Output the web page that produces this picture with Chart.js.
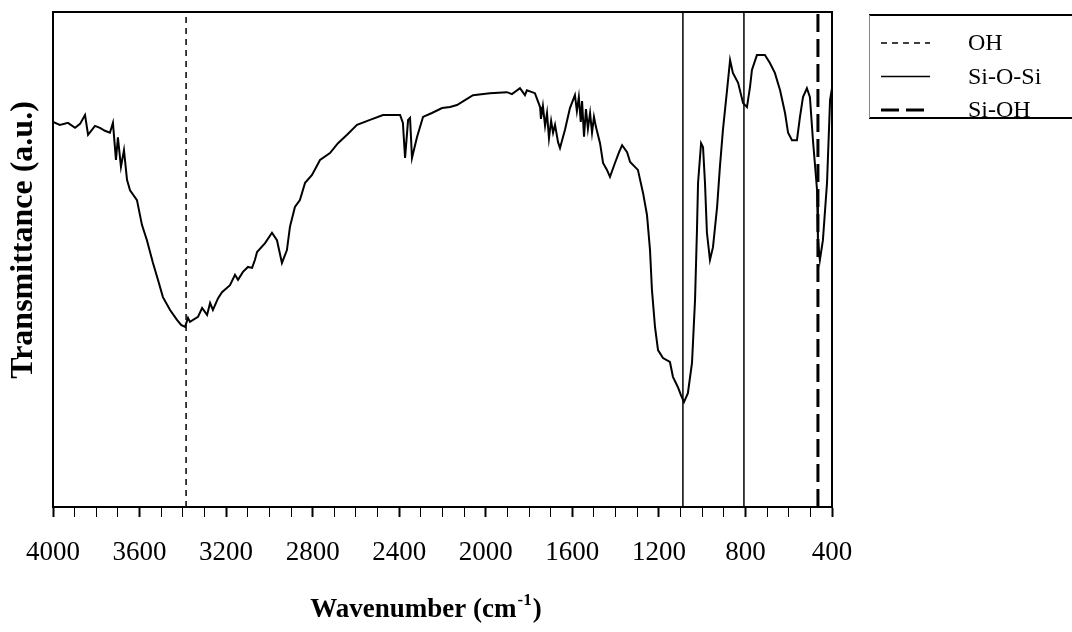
<!DOCTYPE html>
<html>
<head>
<meta charset="utf-8">
<title>FTIR spectrum</title>
<script src="https://cdn.jsdelivr.net/npm/chart.js@4"></script>
<style>
  html, body { margin: 0; padding: 0; background: #fff; }
  #wrap { width: 1072px; height: 632px; position: relative; }
</style>
</head>
<body>
<div id="wrap"><canvas id="ftir"></canvas></div>
<script>
// Spectrum (wavenumber in cm-1, transmittance in arbitrary units 0-100)
const wavenumber = [4000,3968,3931,3898,3875,3852,3838,3806,3783,3760,
    3737,3723,3709,3700,3686,3672,3658,3644,3612,3589,
    3566,3538,3515,3492,3459,3427,3408,3390,3376,3367,
    3330,3311,3288,3274,3261,3237,3219,3182,3159,3145,
    3122,3099,3080,3067,3057,3020,2988,2965,2942,2919,
    2905,2882,2859,2835,2803,2766,2720,2683,2641,2595,
    2535,2475,2396,2383,2373,2359,2350,2341,2318,2290,
    2249,2202,2165,2133,2096,2059,1981,1902,1879,1842,
    1819,1810,1773,1749,1745,1736,1726,1717,1708,1698,
    1689,1680,1666,1657,1634,1611,1588,1579,1570,1561,
    1555,1546,1537,1528,1518,1509,1500,1491,1472,1458,
    1440,1426,1403,1384,1370,1347,1333,1297,1273,1255,
    1241,1232,1218,1204,1181,1149,1135,1112,1098,1084,
    1066,1047,1033,1024,1019,1005,996,987,978,964,
    950,931,918,904,885,871,858,834,811,793,
    779,770,747,710,687,664,640,617,603,585,
    562,548,534,516,502,488,469,465,456,442,
    423,409,400];
const transmittance = [77.8,77.2,77.6,76.6,77.4,79.2,75.2,77.0,76.6,76.0,
    75.6,77.6,70.1,74.7,68.7,72.1,66.1,64.0,62.0,57.0,
    53.9,49.3,45.9,42.4,39.8,37.8,36.8,36.4,38.2,37.4,
    38.4,40.2,38.8,41.2,39.8,42.2,43.4,44.8,46.9,45.9,
    47.5,48.5,48.3,49.9,51.5,53.3,55.4,53.9,49.3,51.9,
    56.6,60.6,62.0,65.5,67.1,70.1,71.5,73.5,75.2,77.2,
    78.2,79.2,79.2,77.6,70.5,78.2,78.6,70.5,74.7,78.8,
    79.6,80.6,80.8,81.2,82.2,83.2,83.6,83.8,83.4,84.6,
    83.2,84.2,83.6,80.8,78.4,81.0,77.0,79.6,74.5,78.0,
    75.6,77.2,73.7,72.5,76.2,80.6,83.2,80.0,82.8,77.8,
    82.0,74.8,80.4,76.4,79.6,75.6,78.8,76.8,73.5,69.5,
    68.1,66.7,69.5,71.7,73.1,71.7,69.7,68.1,63.4,59.0,
    51.9,43.8,36.4,31.7,30.1,29.3,26.3,24.2,22.6,21.2,
    23.0,29.1,41.8,56.0,65.5,73.5,72.7,65.5,55.4,49.9,
    52.5,60.6,68.7,76.2,84.2,90.3,87.7,85.7,81.6,80.8,
    84.8,88.3,91.3,91.3,89.7,87.7,84.2,79.6,75.6,74.1,
    74.1,78.8,82.8,84.6,82.8,74.1,64.0,53.9,49.9,53.9,
    65.5,82.2,84.6];

// band markers (cm-1)
const ohBands = [3385];
const siOSiBands = [1089, 807];
const siOHBands = [465];

// labelled ticks on the wavenumber axis
const majorTicks = [4000, 3600, 3200, 2800, 2400, 2000, 1600, 1200, 800, 400];

const SERIF = "'Liberation Serif', 'Times New Roman', serif";

function bandLines(bands, label, dash, width) {
    return bands.map((wn, i) => ({
        label: label,
        inLegend: i === 0,
        data: [{ x: wn, y: 0 }, { x: wn, y: 100 }],
        borderColor: '#000',
        borderWidth: width,
        borderDash: dash,
        pointRadius: 0,
        fill: false
    }));
}

const spectrum = wavenumber.map((wn, i) => ({ x: wn, y: transmittance[i] }));

// draws the frame, axis titles and the boxed legend
const decorations = {
    id: 'decorations',
    afterDraw(chart) {
        const ctx = chart.ctx;
        const area = chart.chartArea;
        ctx.save();

        // frame round the plot
        ctx.strokeStyle = '#000';
        ctx.lineWidth = 2;
        ctx.strokeRect(area.left, area.top, area.right - area.left, area.bottom - area.top);

        // x title with superscript
        ctx.fillStyle = '#000';
        ctx.textBaseline = 'alphabetic';
        const big = 'bold 27px ' + SERIF;
        const small = 'bold 17px ' + SERIF;
        ctx.font = big;
        const partA = 'Wavenumber (cm';
        const partC = ')';
        const wA = ctx.measureText(partA).width;
        const wC = ctx.measureText(partC).width;
        ctx.font = small;
        const wB = ctx.measureText('-1').width;
        let x = 425 - (wA + wB + wC) / 2;
        const base = 617;
        ctx.font = big;
        ctx.fillText(partA, x, base);
        ctx.font = small;
        ctx.fillText('-1', x + wA + 1, base - 12);
        ctx.font = big;
        ctx.fillText(partC, x + wA + wB + 2, base);

        // y title
        ctx.save();
        ctx.translate(24, 240);
        ctx.rotate(-Math.PI / 2);
        ctx.font = 'bold 32px ' + SERIF;
        ctx.textAlign = 'center';
        ctx.textBaseline = 'middle';
        ctx.fillText('Transmittance (a.u.)', 0, 0);
        ctx.restore();

        // legend box
        const lx = 869, ly = 15, lb = 118;
        ctx.save();
        ctx.beginPath();
        ctx.rect(lx, ly, chart.width - lx, lb - ly);
        ctx.clip();
        const items = chart.data.datasets.filter(d => d.inLegend);
        items.forEach((d, i) => {
            const y = 43 + i * 33.5;
            ctx.strokeStyle = '#000';
            ctx.lineWidth = d.borderWidth;
            ctx.setLineDash(d.borderDash || []);
            ctx.beginPath();
            ctx.moveTo(881, y);
            ctx.lineTo(930, y);
            ctx.stroke();
            ctx.setLineDash([]);
            ctx.font = '24px ' + SERIF;
            ctx.textBaseline = 'middle';
            ctx.textAlign = 'left';
            ctx.fillText(d.label, 968, y + 1);
        });
        ctx.restore();
        ctx.lineWidth = 2;
        ctx.beginPath();
        ctx.moveTo(lx, ly); ctx.lineTo(chart.width, ly);
        ctx.moveTo(lx, lb); ctx.lineTo(chart.width, lb);
        ctx.stroke();
        ctx.lineWidth = 1;
        ctx.strokeStyle = '#888';
        ctx.beginPath();
        ctx.moveTo(lx + 0.5, ly); ctx.lineTo(lx + 0.5, lb);
        ctx.stroke();

        ctx.restore();
    }
};

new Chart(document.getElementById('ftir'), {
    type: 'line',
    data: {
        datasets: [
            {
                label: 'spectrum',
                data: spectrum,
                borderColor: '#000',
                borderWidth: 2,
                pointRadius: 0,
                tension: 0,
                fill: false
            },
            ...bandLines(ohBands, 'OH', [6, 5], 1.5),
            ...bandLines(siOSiBands, 'Si-O-Si', [], 1.5),
            ...bandLines(siOHBands, 'Si-OH', [18, 7], 3)
        ]
    },
    options: {
        responsive: true,
        maintainAspectRatio: false,
        animation: false,
        devicePixelRatio: 1,
        layout: { padding: { left: 53, top: 12, right: 240, bottom: 0 } },
        plugins: {
            legend: { display: false },
            tooltip: { enabled: false }
        },
        scales: {
            x: {
                type: 'linear',
                reverse: true,
                min: 400,
                max: 4000,
                afterFit: function(scale) { scale.height = 125; },
                ticks: {
                    stepSize: 100,
                    autoSkip: false,
                    maxRotation: 0,
                    padding: 20,
                    color: '#000',
                    font: { family: SERIF, size: 27 },
                    callback: function(value) {
                        return majorTicks.includes(value) ? String(value) : '';
                    }
                },
                grid: {
                    drawOnChartArea: false,
                    drawTicks: true,
                    tickLength: 10,
                    tickColor: '#000',
                    tickWidth: function(context) {
                        return context.tick && majorTicks.includes(context.tick.value) ? 2 : 1;
                    }
                },
                border: { display: true, color: '#000', width: 2 }
            },
            y: {
                display: false,
                min: 0,
                max: 100
            }
        }
    },
    plugins: [decorations]
});
</script>
</body>
</html>
